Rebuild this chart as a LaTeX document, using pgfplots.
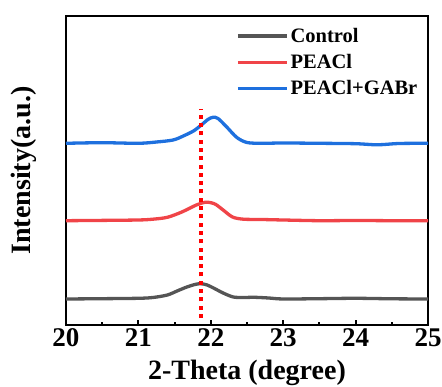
\documentclass[border=0pt]{standalone}
\usepackage{pgfplots}
\pgfplotsset{compat=1.18}
\usepackage{fontspec}
\setmainfont{Liberation Serif}
\definecolor{cgray}{RGB}{85,85,85}
\definecolor{cred}{RGB}{240,68,72}
\definecolor{cblue}{RGB}{30,112,222}
\begin{document}
\begin{tikzpicture}
\useasboundingbox (-66pt,-62pt) rectangle (376pt,325pt);
\begin{axis}[
  at={(0pt,0pt)}, anchor=south west,
  scale only axis, width=362pt, height=309pt,
  xmin=20, xmax=25, ymin=0, ymax=309,
  axis line style={line width=2.8pt},
  xtick={20,21,22,23,24,25},
  minor x tick num=1,
  ytick=\empty,
  tick align=inside,
  xtick pos=bottom,
  major tick length=5pt, minor tick length=2.5pt,
  every tick/.style={line width=2pt, black},
  /pgf/number format/assume math mode=true,
  xticklabel style={font=\fontsize{27}{30}\selectfont\bfseries, anchor=base, yshift=-22pt},
  xlabel={2-Theta (degree)},
  xlabel style={font=\fontsize{28}{32}\selectfont\bfseries, at={(axis description cs:0.5,0)}, anchor=base, yshift=-55pt, inner sep=0pt},
  ylabel={Intensity(a.u.)},
  ylabel style={font=\fontsize{28}{32}\selectfont\bfseries, at={(axis description cs:-0.08,0.5)}, anchor=south, inner sep=0pt},
  legend style={draw=none, fill=none, at={(rel axis cs:0.47,0.968)}, anchor=north west,
    font=\fontsize{20.5}{22}\selectfont\bfseries, row sep=6.5pt, inner sep=0pt},
  legend cell align=left,
  legend image code/.code={\draw[#1] (0pt,0pt) -- (49pt,0pt);},
]
\addplot[cgray, line width=3.3pt, smooth, tension=0.5] coordinates {
(20,26) (20.5,26.3) (21,26.7) (21.2,27.5) (21.4,30) (21.55,34.5) (21.67,38) (21.78,40.5) (21.86,41.3) (21.95,40) (22.05,36.5) (22.17,32) (22.31,28) (22.45,27.5) (22.6,27.7) (22.8,27) (23,26) (23.5,26.3) (24,26.7) (24.5,26.2) (25,26)
};
\addlegendentry{Control}
\addplot[cred, line width=3.3pt, smooth, tension=0.5] coordinates {
(20,104.3) (20.5,104.6) (21,105) (21.2,105.8) (21.4,107.7) (21.6,113) (21.8,120) (21.92,122.7) (22.0,122.3) (22.07,120.5) (22.17,115) (22.3,108) (22.45,105.8) (22.7,105.5) (23,105) (23.5,104.3) (24,104.5) (24.5,104.3) (25,104.3)
};
\addlegendentry{PEACl}
\addplot[cblue, line width=3.3pt, smooth, tension=0.5] coordinates {
(20,181.7) (20.5,182.3) (21,181.7) (21.25,183) (21.48,185) (21.62,189) (21.76,194) (21.87,200) (21.96,205.5) (22.03,207.7) (22.1,206.5) (22.22,198) (22.36,187.5) (22.5,182.5) (22.7,181.7) (23,182) (23.5,181.7) (24,181.3) (24.3,180.2) (24.6,181.5) (25,181.7)
};
\addlegendentry{PEACl+GABr}
\addplot[red, line width=3.8pt, dash pattern=on 4pt off 4.3pt, forget plot] coordinates {(21.86,7) (21.86,216)};
\end{axis}
\end{tikzpicture}
\end{document}
